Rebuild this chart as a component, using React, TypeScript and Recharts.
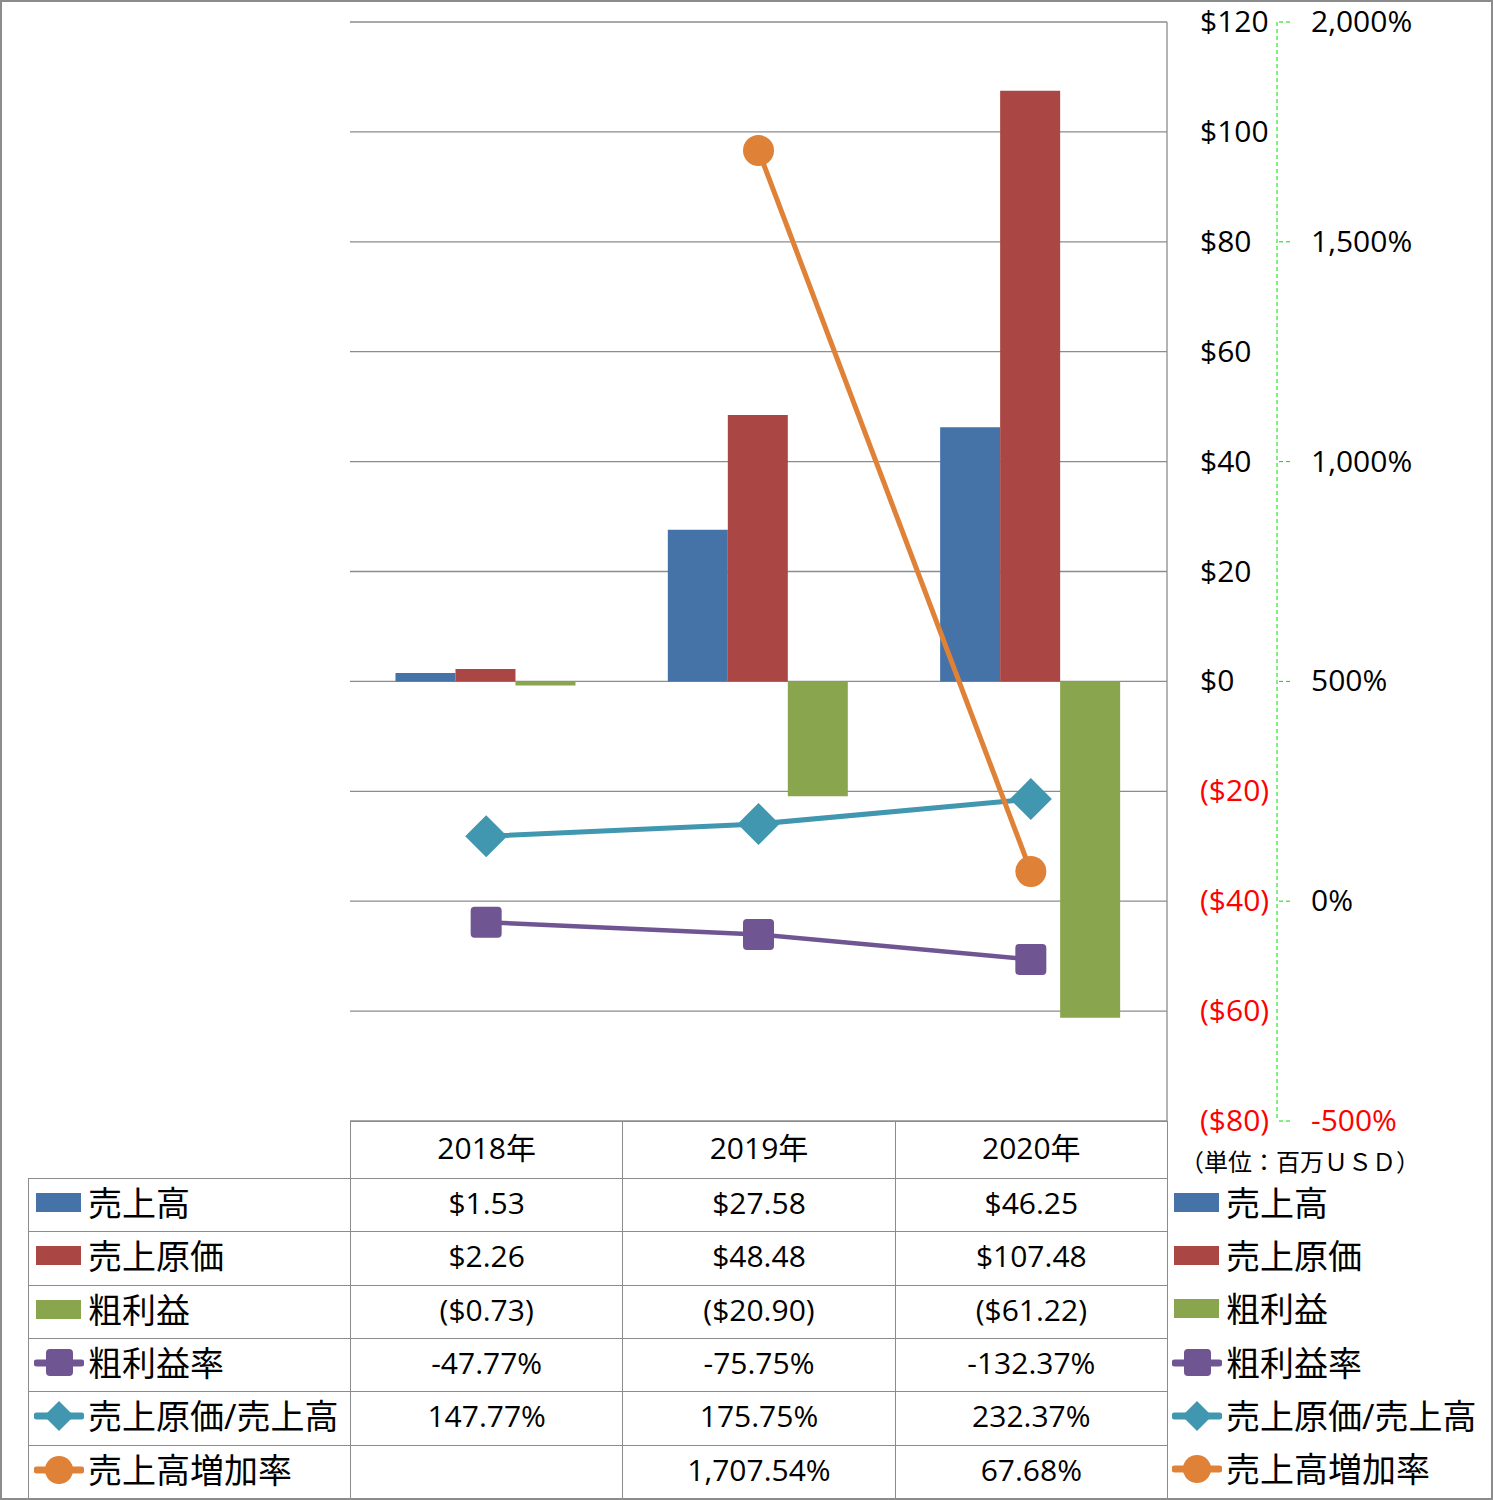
import { ComposedChart, Bar, Line, XAxis, YAxis, CartesianGrid } from "recharts";

const years = ["2018年", "2019年", "2020年"];
const sales = [1.53, 27.58, 46.25];
const costOfSales = [2.26, 48.48, 107.48];
const grossProfit = [-0.73, -20.9, -61.22];
const grossMargin = [-47.77, -75.75, -132.37];
const costRatio = [147.77, 175.75, 232.37];
const salesGrowth: (number | null)[] = [null, 1707.54, 67.68];

const usdTicks = [-80, -60, -40, -20, 0, 20, 40, 60, 80, 100, 120];
const pctTicks = [-500, 0, 500, 1000, 1500, 2000];

const W = 1493;
const H = 1500;
const LEFT = 350;
const TOP = 22;
const PLOT_BOTTOM = 1121;
const USD_AXIS_W = 110;
const PCT_AXIS_W = 216;
const PLOT_W = W - LEFT - USD_AXIS_W - PCT_AXIS_W;

const FONT = "'Open Sans', 'Noto Sans CJK JP', sans-serif";
const GRID = "#8c8c8c";

const C = {
  sales: "#4572a7",
  cost: "#aa4643",
  profit: "#89a54e",
  margin: "#6f5592",
  ratio: "#4097af",
  growth: "#df8136",
};

const data = years.map((y, i) => ({
  year: y,
  sales: sales[i],
  cost: costOfSales[i],
  profit: grossProfit[i],
  margin: grossMargin[i],
  ratio: costRatio[i],
  growth: salesGrowth[i],
}));

const usd = (v: number, digits: number) =>
  v < 0 ? `($${Math.abs(v).toFixed(digits)})` : `$${v.toFixed(digits)}`;
const pct = (v: number, digits: number) =>
  `${v.toLocaleString("en-US", { minimumFractionDigits: digits, maximumFractionDigits: digits })}%`;

type Row = {
  name: string;
  kind: "bar" | "square" | "diamond" | "circle";
  color: string;
  cells: string[];
};

const rows: Row[] = [
  { name: "売上高", kind: "bar", color: C.sales, cells: sales.map((v) => usd(v, 2)) },
  { name: "売上原価", kind: "bar", color: C.cost, cells: costOfSales.map((v) => usd(v, 2)) },
  { name: "粗利益", kind: "bar", color: C.profit, cells: grossProfit.map((v) => usd(v, 2)) },
  { name: "粗利益率", kind: "square", color: C.margin, cells: grossMargin.map((v) => pct(v, 2)) },
  { name: "売上原価/売上高", kind: "diamond", color: C.ratio, cells: costRatio.map((v) => pct(v, 2)) },
  {
    name: "売上高増加率",
    kind: "circle",
    color: C.growth,
    cells: salesGrowth.map((v) => (v == null ? "" : pct(v, 2))),
  },
];

const Key = ({ kind, color }: { kind: Row["kind"]; color: string }) => {
  if (kind === "bar") {
    return (
      <svg width={50} height={34} style={{ display: "block" }}>
        <rect x={2} y={7} width={45} height={19} fill={color} />
      </svg>
    );
  }
  return (
    <svg width={50} height={34} style={{ display: "block" }}>
      <line x1={3} y1={17} x2={47} y2={17} stroke={color} strokeWidth={7} strokeLinecap="round" />
      {kind === "square" && <rect x={12} y={3} width={27} height={27} rx={4} fill={color} />}
      {kind === "diamond" && <polygon points="25,2 40,17 25,32 10,17" fill={color} />}
      {kind === "circle" && <circle cx={25} cy={17} r={14} fill={color} />}
    </svg>
  );
};

const makeDot = (kind: Row["kind"], color: string) => (p: any) => {
  const { cx, cy, index, value } = p;
  if (value == null || cy == null) return <g key={`e-${index}`} />;
  if (kind === "square")
    return <rect key={`d-${index}`} x={cx - 15.5} y={cy - 15.5} width={31} height={31} rx={4} fill={color} />;
  if (kind === "diamond")
    return (
      <polygon
        key={`d-${index}`}
        points={`${cx},${cy - 21} ${cx + 21},${cy} ${cx},${cy + 21} ${cx - 21},${cy}`}
        fill={color}
      />
    );
  return <circle key={`d-${index}`} cx={cx} cy={cy} r={15.5} fill={color} />;
};

const UsdTick = (p: any) => {
  const v = p.payload.value as number;
  return (
    <text x={p.x} y={p.y + 10} textAnchor="start" fontSize={30} fontFamily={FONT} fill={v < 0 ? "#ff0000" : "#000"}>
      {usd(v, 0)}
    </text>
  );
};

const PctTick = (p: any) => {
  const v = p.payload.value as number;
  return (
    <text x={p.x} y={p.y + 10} textAnchor="start" fontSize={30} fontFamily={FONT} fill={v < 0 ? "#ff0000" : "#000"}>
      {pct(v, 0)}
    </text>
  );
};

const HEADER_H = 57;
const ROW_H = (H - 2 - PLOT_BOTTOM - HEADER_H) / rows.length;
const COL_W = PLOT_W / years.length;
const TABLE_LEFT = 28;

export default function App() {
  const cell: React.CSSProperties = {
    border: `1px solid ${GRID}`,
    textAlign: "center",
    padding: "0 0 4px 0",
    fontSize: 30,
    lineHeight: "40px",
    color: "#000",
  };
  return (
    <div style={{ position: "absolute", left: 0, top: 0, width: W, height: H, background: "#fff", fontFamily: FONT }}>
      <ComposedChart
        width={W}
        height={H}
        data={data}
        margin={{ top: TOP, left: LEFT, right: 0, bottom: H - PLOT_BOTTOM }}
        barCategoryGap="16.7%"
        barGap={0}
      >
        <CartesianGrid yAxisId="amount" vertical={false} stroke={GRID} strokeWidth={1.3} />
        <XAxis dataKey="year" hide />
        <YAxis
          yAxisId="amount"
          orientation="right"
          width={USD_AXIS_W}
          domain={[-80, 120]}
          ticks={usdTicks}
          interval={0}
          axisLine={{ stroke: GRID, strokeWidth: 1.3 }}
          tickLine={false}
          tickSize={0}
          tickMargin={33}
          tick={UsdTick}
        />
        <YAxis
          yAxisId="rate"
          orientation="right"
          width={PCT_AXIS_W}
          domain={[-500, 2000]}
          ticks={pctTicks}
          interval={0}
          axisLine={{ stroke: "#00e000", strokeDasharray: "4 3" }}
          tickLine={{ stroke: "#00e000", strokeDasharray: "4 3" }}
          tickSize={13}
          tickMargin={21}
          tick={PctTick}
        />
        <Bar yAxisId="amount" dataKey="sales" fill={C.sales} isAnimationActive={false} />
        <Bar yAxisId="amount" dataKey="cost" fill={C.cost} isAnimationActive={false} />
        <Bar yAxisId="amount" dataKey="profit" fill={C.profit} isAnimationActive={false} />
        <Line
          yAxisId="rate"
          dataKey="margin"
          stroke={C.margin}
          strokeWidth={4.5}
          dot={makeDot("square", C.margin)}
          activeDot={false}
          isAnimationActive={false}
        />
        <Line
          yAxisId="rate"
          dataKey="ratio"
          stroke={C.ratio}
          strokeWidth={5}
          dot={makeDot("diamond", C.ratio)}
          activeDot={false}
          isAnimationActive={false}
        />
        <Line
          yAxisId="rate"
          dataKey="growth"
          stroke={C.growth}
          strokeWidth={5}
          dot={makeDot("circle", C.growth)}
          activeDot={false}
          isAnimationActive={false}
        />
      </ComposedChart>

      <table
        style={{
          position: "absolute",
          left: TABLE_LEFT,
          top: PLOT_BOTTOM,
          borderCollapse: "collapse",
          tableLayout: "fixed",
          fontFamily: FONT,
        }}
      >
        <colgroup>
          <col style={{ width: LEFT - TABLE_LEFT }} />
          {years.map((y) => (
            <col key={y} style={{ width: COL_W }} />
          ))}
        </colgroup>
        <tbody>
          <tr style={{ height: HEADER_H }}>
            <td style={{ border: "none", padding: 0 }} />
            {years.map((y) => (
              <td key={y} style={cell}>
                {y}
              </td>
            ))}
          </tr>
          {rows.map((r) => (
            <tr key={r.name} style={{ height: ROW_H }}>
              <td style={{ ...cell, textAlign: "left" }}>
                <div style={{ display: "flex", alignItems: "center", paddingLeft: 5 }}>
                  <Key kind={r.kind} color={r.color} />
                  <span style={{ fontSize: 34, lineHeight: "40px", marginLeft: 4, whiteSpace: "nowrap" }}>{r.name}</span>
                </div>
              </td>
              {r.cells.map((c, i) => (
                <td key={i} style={cell}>
                  {c}
                </td>
              ))}
            </tr>
          ))}
        </tbody>
      </table>

      <div
        style={{
          position: "absolute",
          left: 1180,
          top: PLOT_BOTTOM + 22,
          fontSize: 24,
          fontFamily: FONT,
          whiteSpace: "nowrap",
        }}
      >
        （単位：百万ＵＳＤ）
      </div>

      {rows.map((r, i) => (
        <div
          key={r.name}
          style={{
            position: "absolute",
            left: 1172,
            top: PLOT_BOTTOM + HEADER_H + i * ROW_H - 2,
            height: ROW_H,
            display: "flex",
            alignItems: "center",
          }}
        >
          <Key kind={r.kind} color={r.color} />
          <span style={{ fontSize: 34, lineHeight: "40px", marginLeft: 4, whiteSpace: "nowrap" }}>{r.name}</span>
        </div>
      ))}

      <div
        style={{
          position: "absolute",
          left: 0,
          top: 0,
          width: W,
          height: H,
          boxSizing: "border-box",
          border: `2px solid ${GRID}`,
          pointerEvents: "none",
        }}
      />
    </div>
  );
}
